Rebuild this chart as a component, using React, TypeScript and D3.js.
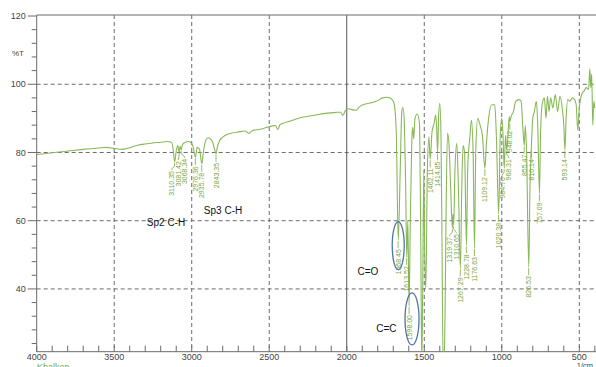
import * as d3 from "d3";

// IR spectrum, wavenumber (1/cm) vs %T
const wavenumbers = [
  4000, 3900, 3800, 3700, 3600, 3550, 3500, 3450, 3400, 3350, 3300, 3250, 3200, 3160, 3130,
  3120, 3110, 3100, 3090, 3081, 3075, 3068, 3060, 3040, 3020, 3000, 2990, 2976, 2965, 2950,
  2935, 2925, 2910, 2895, 2880, 2865, 2850, 2843, 2835, 2820, 2800, 2775, 2740, 2700, 2660,
  2630, 2610, 2560, 2520, 2480, 2460, 2445, 2430, 2380, 2340, 2300, 2250, 2200, 2150, 2100,
  2060, 2040, 2025, 2010, 1990, 1960, 1940, 1920, 1900, 1880, 1840, 1800, 1770, 1740, 1720,
  1700, 1690, 1680, 1668, 1655, 1645, 1638, 1630, 1620, 1613, 1606, 1598, 1590, 1580, 1575,
  1568, 1560, 1545, 1530, 1522, 1516, 1510, 1503, 1497, 1490, 1480, 1470, 1462, 1450, 1437,
  1426, 1420, 1414, 1408, 1400, 1392, 1385, 1378, 1368, 1360, 1350, 1340, 1330, 1319, 1315,
  1310, 1302, 1290, 1280, 1267, 1258, 1250, 1240, 1228, 1220, 1205, 1196, 1185, 1176, 1168,
  1155, 1140, 1125, 1109, 1100, 1085, 1065, 1045, 1035, 1020, 1010, 1000, 992, 984, 976,
  968, 960, 952, 948, 940, 925, 910, 890, 875, 865, 855, 848, 840, 826, 818,
  810, 800, 790, 777, 768, 757, 750, 740, 725, 715, 705, 695, 685, 670, 655,
  640, 625, 610, 600, 593, 585, 575, 560, 545, 530, 520, 510, 500, 485, 470,
  455, 440, 432, 426, 420, 413, 406, 400,
];
const transmittance = [
  79.4, 79.9, 80.4, 80.9, 81.3, 81.5, 81.2, 80.9, 81.4, 82.1, 82.5, 82.8, 83.0, 83.2, 83.0,
  81.0, 77.2, 80.5, 82.0, 80.1, 81.8, 80.8, 82.3, 83.0, 83.2, 82.6, 81.5, 78.6, 81.5, 81.0,
  76.7, 80.0, 83.5, 84.3, 84.0, 83.0, 80.5, 79.6, 81.5, 83.5, 84.5, 85.2, 85.7, 86.0, 86.3,
  85.6, 86.4, 86.8, 87.3, 87.8, 87.9, 86.7, 88.2, 89.0, 89.6, 90.2, 90.6, 91.0, 91.4, 91.6,
  91.8, 91.8, 90.9, 92.2, 92.8, 92.5, 92.4, 93.3, 93.9, 94.2, 94.6, 95.2, 96.0, 96.2, 96.0,
  95.0, 93.0, 85.0, 54.3, 75.0, 92.0, 93.2, 90.0, 70.0, 49.3, 60.0, 35.0, 60.0, 84.0, 87.4,
  84.0, 90.0, 91.3, 88.0, 50.0, 18.0, 40.0, 75.0, 50.0, 40.0, 75.0, 84.6, 78.0, 86.0, 88.5,
  91.0, 87.0, 80.0, 90.0, 94.4, 85.0, 50.0, 18.0, 25.0, 60.0, 85.7, 82.0, 70.0, 57.8, 62.0,
  58.7, 75.0, 82.7, 70.0, 46.0, 70.0, 82.0, 80.0, 52.8, 75.0, 85.0, 89.5, 80.0, 52.0, 80.0,
  90.0, 88.0, 85.0, 75.4, 82.0, 90.0, 94.0, 94.0, 85.0, 62.0, 85.0, 90.0, 85.0, 75.4, 85.0,
  80.7, 85.0, 90.5, 89.0, 90.5, 92.0, 95.0, 95.5, 95.0, 88.0, 82.0, 88.0, 80.0, 46.4, 70.0,
  80.7, 90.0, 92.0, 95.0, 88.0, 68.0, 85.0, 94.0, 96.0, 90.0, 96.5, 92.0, 96.0, 93.0, 97.0,
  92.0, 96.5, 93.0, 88.0, 80.7, 90.0, 95.5, 95.0, 96.0, 95.5, 94.0, 86.6, 93.0, 97.0, 98.0,
  99.0, 98.5, 104.5, 99.0, 103.0, 88.0, 95.0, 93.0,
];

const peakLabels = [
  "3110.35", "3081.42", "3068.34", "2976.36", "2935.78", "2843.35",
  "1668.45", "1613.52", "1598.00", "1462.11", "1414.85", "1319.37", "1310.65",
  "1267.29", "1228.78", "1176.63", "1109.12", "1020.38", "984.70", "968.31",
  "948.02", "855.47", "826.53", "810.14", "757.09", "593.14",
];
const peakT = [
  77.2, 80.1, 80.8, 78.6, 76.7, 79.6,
  54.3, 49.3, 35.0, 78.0, 80.0, 57.8, 58.7,
  46.0, 52.8, 52.0, 75.4, 62.0, 75.4, 80.7,
  89.0, 82.0, 46.4, 80.7, 68.0, 80.7,
];

const xTicks = [4000, 3500, 3000, 2500, 2000, 1500, 1000, 500];
const yTicks = [120, 100, 80, 60, 40];

const notes = ["Sp2 C-H", "Sp3 C-H", "C=O", "C=C"];
const noteWn = [3166, 2798, 1863, 1744];
const noteT = [59.6, 63.1, 45.0, 28.5];

const W = 596;
const H = 367;
const left = 36.7;
const right = 594.8;
const top = 15;
const bottom = 351.7;

const green = "#88b858";
const labelGreen = "#7aa640";
const axisGray = "#6b6b6b";
const font = "'Liberation Sans', Arial, sans-serif";

export default function App() {
  const x = d3.scaleLinear().domain([4000, 400]).range([left, right]);
  const y = d3.scaleLinear().domain([21.6, 120.3]).range([bottom, top]);

  const pts: [number, number][] = wavenumbers.map((w, i) => [w, transmittance[i]]);
  const line = d3
    .line<[number, number]>()
    .x((d) => x(d[0]))
    .y((d) => y(d[1]))
    .curve(d3.curveMonotoneX);

  const minorX = d3.range(4000, 399, -100);
  const minorY = d3.range(24, 121, 4).filter((v) => v % 20 !== 0);

  // peak labels: spread apart sideways where their texts would collide
  const labs = peakLabels.map((lab, i) => {
    const px = x(parseFloat(lab));
    const py = y(peakT[i]);
    return { lab, px, py, lx: px, ty: py + 8 };
  });
  const gap = 6.5;
  const textLen = 25;
  for (let k = 0; k < 60; k++) {
    for (let i = 0; i < labs.length; i++) {
      for (let j = i + 1; j < labs.length; j++) {
        const a = labs[i];
        const b = labs[j];
        if (Math.abs(a.ty - b.ty) > textLen) continue;
        const d = b.lx - a.lx;
        if (Math.abs(d) < gap) {
          const push = (gap - Math.abs(d)) / 2;
          const s = d >= 0 ? 1 : -1;
          a.lx -= push * s;
          b.lx += push * s;
        }
      }
    }
  }

  return (
    <svg
      width={W}
      height={H}
      style={{ position: "fixed", left: 0, top: 0, background: "#fff" }}
    >
      <defs>
        <clipPath id="plot">
          <rect x={left} y={top} width={right - left + 2} height={bottom - top} />
        </clipPath>
      </defs>

      {/* grid */}
      {yTicks.slice(1).map((t) => (
        <line key={"gy" + t} x1={left} x2={W} y1={y(t)} y2={y(t)} stroke={axisGray} strokeDasharray="4,3" strokeWidth={1} />
      ))}
      {xTicks.slice(1).map((t) => (
        <line
          key={"gx" + t}
          x1={x(t)}
          x2={x(t)}
          y1={top}
          y2={bottom}
          stroke={t === 2000 ? "#555" : axisGray}
          strokeDasharray={t === 2000 ? undefined : "4,3"}
          strokeWidth={1}
        />
      ))}

      {/* frame */}
      <line x1={left} x2={W} y1={top} y2={top} stroke={axisGray} strokeWidth={1} />
      <line x1={left} x2={left} y1={top} y2={bottom} stroke={axisGray} strokeWidth={1} />
      <line x1={left} x2={W} y1={bottom} y2={bottom} stroke={axisGray} strokeWidth={1} />

      {/* ticks */}
      {minorX.map((t) => (
        <line key={"mx" + t} x1={x(t)} x2={x(t)} y1={bottom} y2={bottom - 6} stroke={axisGray} />
      ))}
      {minorY.map((t) => (
        <line key={"my" + t} x1={left - 5} x2={left} y1={y(t)} y2={y(t)} stroke={axisGray} />
      ))}
      {yTicks.map((t) => (
        <g key={"yt" + t}>
          <line x1={left - 9} x2={left} y1={y(t)} y2={y(t)} stroke={axisGray} />
          <text x={left - 11} y={y(t)} dy="0.35em" textAnchor="end" fontSize={9} fill="#444" fontFamily={font}>
            {t}
          </text>
        </g>
      ))}
      {xTicks.map((t) => (
        <text key={"xt" + t} x={x(t)} y={bottom + 8.5} textAnchor="middle" fontSize={9} fill="#444" fontFamily={font}>
          {t}
        </text>
      ))}
      <text x={18} y={y(109.2)} dy="0.35em" textAnchor="middle" fontSize={8} fill="#444" fontFamily={font}>
        %T
      </text>
      <text x={585} y={367.5} textAnchor="middle" fontSize={7.5} fill="#444" fontFamily={font}>
        1/cm
      </text>
      <text x={37} y={370} fontSize={9} fill={labelGreen} fontFamily={font}>
        Khalkon
      </text>

      {/* spectrum */}
      <g clipPath="url(#plot)">
        <path d={line(pts) ?? ""} fill="none" stroke={green} strokeWidth={1.1} />
        {labs.map((l) => (
          <g key={l.lab}>
            <polyline
              points={`${l.px},${l.py + 1} ${l.px},${l.py + 4} ${l.lx},${l.ty - 1} ${l.lx},${l.ty}`}
              fill="none"
              stroke={labelGreen}
              strokeWidth={0.8}
            />
            <text
              transform={`translate(${l.lx + 2.5},${l.ty + 1}) rotate(-90)`}
              textAnchor="end"
              fontSize={7}
              fill={labelGreen}
              fontFamily={font}
            >
              {l.lab}
            </text>
          </g>
        ))}
      </g>

      {/* annotations */}
      {notes.map((n, i) => (
        <text key={n} x={x(noteWn[i])} y={y(noteT[i])} dy="0.35em" textAnchor="middle" fontSize={10} fill="#111" fontFamily={font}>
          {n}
        </text>
      ))}
      <ellipse cx={x(1668)} cy={y(52.7)} rx={6} ry={24} fill="none" stroke="#4f74a8" strokeWidth={1.3} />
      <ellipse cx={x(1579)} cy={y(31.2)} rx={7} ry={26} fill="none" stroke="#4f74a8" strokeWidth={1.3} />
    </svg>
  );
}
